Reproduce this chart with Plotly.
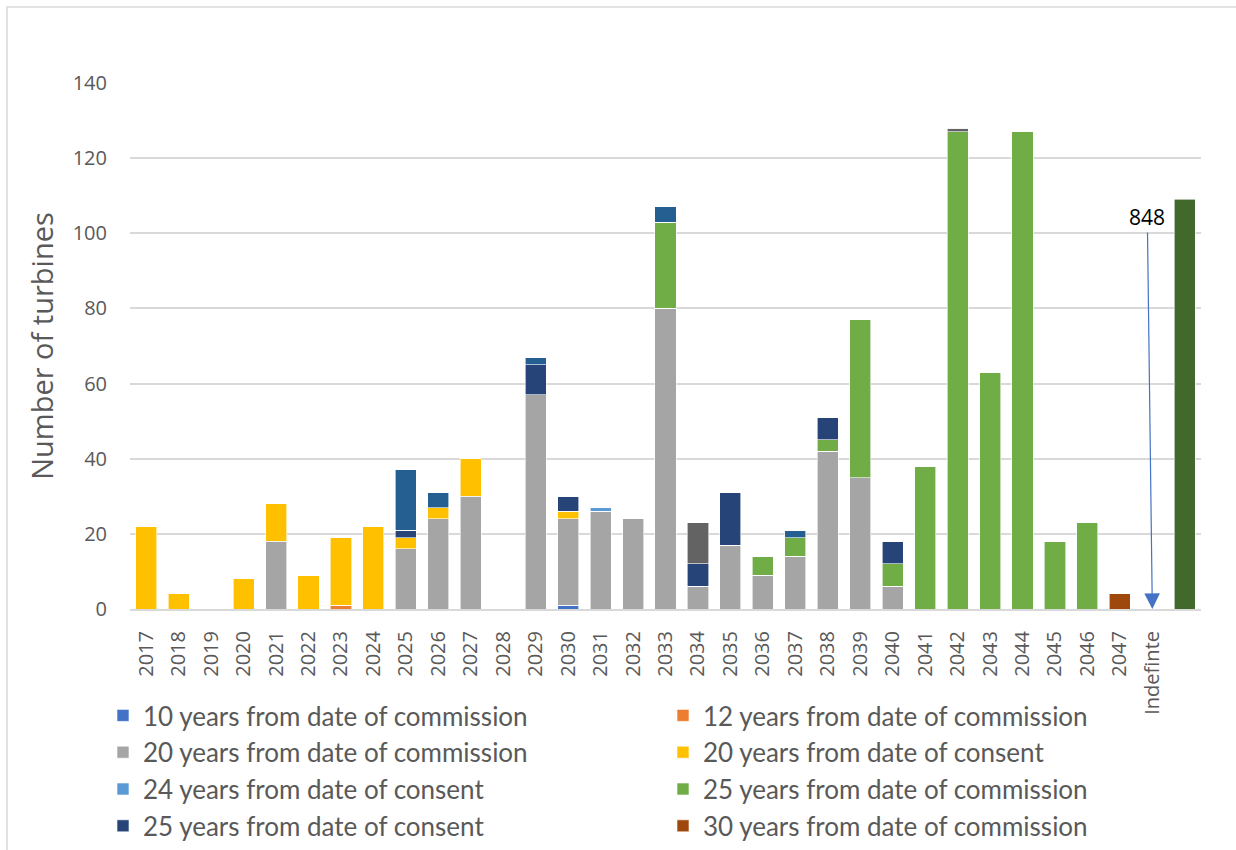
import plotly.graph_objects as go

# Categories on the x axis (last slot carries the truncated "indefinite" bar)
years = [str(y) for y in range(2017, 2048)] + ["Indefinte", " "]

# Turbine counts per decommissioning rule, by year
comm10 = {"2030": 1}
comm12 = {"2023": 1}
comm20 = {"2021": 18, "2025": 16, "2026": 24, "2027": 30, "2029": 57, "2030": 23,
          "2031": 26, "2032": 24, "2033": 80, "2034": 6, "2035": 17, "2036": 9,
          "2037": 14, "2038": 42, "2039": 35, "2040": 6}
cons20 = {"2017": 22, "2018": 4, "2020": 8, "2021": 10, "2022": 9, "2023": 18,
          "2024": 22, "2025": 3, "2026": 3, "2027": 10, "2030": 2}
cons24 = {"2031": 1}
comm25 = {"2033": 23, "2036": 5, "2037": 5, "2038": 3, "2039": 42, "2040": 6,
          "2041": 38, "2042": 127, "2043": 63, "2044": 127, "2045": 18, "2046": 23}
cons25 = {"2025": 2, "2029": 8, "2030": 4, "2034": 6, "2035": 14, "2038": 6, "2040": 6}
comm30 = {"2047": 4}
other_blue = {"2025": 16, "2026": 4, "2029": 2, "2033": 4, "2037": 2}
other_grey = {"2034": 11, "2042": 1}
indefinite_bar = {" ": 109}
indefinite_total = 848

series = [
    ("10 years from date of commission", comm10, "#4472C4", True),
    ("12 years from date of commission", comm12, "#ED7D31", True),
    ("20 years from date of commission", comm20, "#A5A5A5", True),
    ("20 years from date of consent", cons20, "#FFC000", True),
    ("24 years from date of consent", cons24, "#5B9BD5", True),
    ("25 years from date of commission", comm25, "#70AD47", True),
    ("25 years from date of consent", cons25, "#264478", True),
    ("30 years from date of commission", comm30, "#9E480E", True),
    ("Other (blue)", other_blue, "#255E91", False),
    ("Other (grey)", other_grey, "#636363", False),
    ("Indefinite", indefinite_bar, "#43682B", False),
]

FONT = "Open Sans"
TXT = "#595959"

fig = go.Figure()
for name, vals, color, show in series:
    fig.add_trace(go.Bar(
        x=years,
        y=[vals.get(c, 0) for c in years],
        name=name,
        marker=dict(color=color, line=dict(color="white", width=0.6)),
        showlegend=show,
    ))

# Plot-area geometry in pixels
W, H = 1236, 850
L, R, T, B = 130, 1201, 83, 609
pw, ph = R - L, B - T


def px_x(p):
    return (p - L) / pw


def px_y(p):
    return (B - p) / ph


fig.update_layout(
    width=W, height=H,
    margin=dict(l=L, r=W - R, t=T, b=H - B, pad=0, autoexpand=False),
    barmode="stack",
    bargap=0.35,
    plot_bgcolor="white",
    paper_bgcolor="white",
    font=dict(family=FONT, color=TXT, size=20),
    xaxis=dict(
        type="category",
        categoryorder="array",
        categoryarray=years,
        tickangle=-90,
        tickfont=dict(size=20, color=TXT),
        showgrid=False,
        showline=True,
        linecolor="#D9D9D9",
        linewidth=2,
        ticks="",
        ticklabelstandoff=12,
        range=[-0.5, len(years) - 0.5],
    ),
    yaxis=dict(
        range=[0, 140],
        dtick=20,
        tickfont=dict(size=20, color=TXT),
        gridcolor="#D9D9D9",
        gridwidth=1.5,
        zeroline=False,
        ticks="",
        ticklabelstandoff=22,
        title=dict(text="Number of turbines", font=dict(size=29, color=TXT), standoff=10),
    ),
    legend=dict(
        orientation="h",
        traceorder="normal",
        x=px_x(103), y=px_y(692),
        xanchor="left", yanchor="top",
        entrywidth=515, entrywidthmode="pixels",
        font=dict(size=26, color=TXT, family="Lato"),
        bgcolor="rgba(0,0,0,0)",
    ),
    shapes=[dict(
        type="rect", xref="paper", yref="paper",
        x0=px_x(7), x1=px_x(1245), y0=px_y(860), y1=px_y(7),
        line=dict(color="#D9D9D9", width=1.5), fillcolor="rgba(0,0,0,0)", layer="below",
    )],
    annotations=[dict(
        x="Indefinte", y=0, xref="x", yref="y",
        text=str(indefinite_total),
        showarrow=True,
        ax=-5, ay=-392,
        arrowhead=2, arrowsize=2.6, arrowwidth=1.2, arrowcolor="#4472C4",
        font=dict(size=21, color="black", family=FONT),
    )],
)

fig.write_html("out.html")
